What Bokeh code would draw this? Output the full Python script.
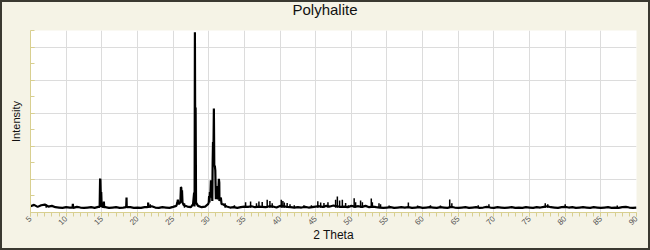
import numpy as np
from bokeh.plotting import figure
from bokeh.layouts import column
from bokeh.models import Range1d, SingleIntervalTicker, CustomJSTickFormatter, Div
from bokeh.embed import file_html
from bokeh.resources import INLINE

# ---------------- data ----------------
title_text = "Polyhalite"
x_label = "2 Theta"
y_label = "Intensity"

# background trace, sampled every 0.5 degree from 5.0 to 90.0
bg_start, bg_step = 5.0, 0.5
bg_counts = [
    190, 230, 170, 220, 240, 180, 200, 160, 150, 140,   # 5 - 9.5
    160, 150, 140, 170, 150, 140, 150, 160, 140, 170,   # 10 - 14.5
    180, 160, 140, 150, 160, 140, 150, 150, 160, 140,   # 15 - 19.5
    150, 140, 160, 150, 190, 150, 140, 160, 150, 140,   # 20 - 24.5
    170, 230, 300, 220, 180, 160, 180, 200, 160, 180,   # 25 - 29.5
    300, 350, 400, 350, 250, 180, 150, 160, 140, 160,   # 30 - 34.5
    180, 170, 190, 160, 180, 170, 160, 190, 180, 150,   # 35 - 39.5
    200, 190, 170, 160, 150, 160, 150, 170, 150, 160,   # 40 - 44.5
    180, 190, 170, 200, 180, 210, 190, 170, 180, 160,   # 45 - 49.5
    200, 180, 190, 170, 200, 160, 180, 160, 150, 140,   # 50 - 54.5
    150, 160, 140, 150, 160, 150, 160, 140, 150, 160,   # 55 - 59.5
    140, 150, 160, 150, 140, 160, 150, 140, 170, 150,   # 60 - 64.5
    140, 150, 160, 140, 150, 160, 140, 150, 170, 150,   # 65 - 69.5
    140, 160, 150, 140, 150, 160, 140, 150, 140, 160,   # 70 - 74.5
    150, 140, 160, 150, 170, 190, 160, 150, 140, 160,   # 75 - 79.5
    170, 150, 160, 140, 150, 160, 150, 140, 160, 150,   # 80 - 84.5
    140, 150, 160, 140, 150, 140, 160, 170, 150, 140,   # 85 - 89.5
    150,                                                # 90
]
bg_theta = [bg_start + bg_step * i for i in range(len(bg_counts))]

# detailed points of the main reflections
pk_theta = [
    10.90, 10.94, 10.98,
    14.70, 14.76, 14.80, 14.86, 14.92, 14.98,
    15.25, 15.29, 15.34,
    18.42, 18.47, 18.52,
    21.45, 21.50, 21.55,
    25.45, 25.60, 25.67, 25.75,
    26.02, 26.10, 26.15, 26.20, 26.25, 26.32,
    27.80, 27.95, 28.02, 28.06, 28.10, 28.16, 28.22,
    29.90, 30.05, 30.10, 30.16, 30.22, 30.30, 30.36, 30.45, 30.55, 30.60,
    30.66, 30.72, 30.78, 30.85, 30.92, 31.00, 31.10, 31.20, 31.30, 31.42,
    31.48, 31.56, 31.70, 31.80,
]
pk_counts = [
    150, 260, 150,
    170, 1000, 1020, 500, 615, 200,
    160, 330, 160,
    160, 450, 160,
    160, 300, 170,
    200, 300, 385, 250,
    300, 770, 750, 350, 670, 300,
    250, 600, 400, 5450, 2500, 3170, 300,
    250, 500, 300, 615, 450, 970, 500, 700, 1500, 2130,
    1800, 3140, 1400, 1420, 1270, 600, 800, 500, 400, 1020,
    900, 400, 450, 250,
]

# small reflections (drawn as thin sticks above the background)
mn_theta = [7.2, 21.8, 26.6, 32.3, 33.6, 35.17, 35.87, 36.7, 37.04, 37.5,
            38.2, 38.58, 38.9, 40.18, 40.4, 40.6, 41.0, 41.4, 42.0, 43.35,
            44.4, 45.3, 45.7, 46.16, 46.72, 47.8, 48.04, 48.36, 48.74, 49.2,
            49.58, 50.4, 50.6, 51.3, 51.55, 52.8, 52.95, 53.88, 54.1, 55.3,
            58.0, 59.3, 61.1, 62.5, 63.8, 64.1, 67.8, 69.3, 77.2, 77.55,
            80.0, 87.3]
mn_counts = [240, 250, 280, 280, 220, 310, 330, 280, 330, 320,
             385, 350, 280, 385, 350, 300, 290, 250, 220, 220,
             220, 340, 300, 290, 310, 385, 480, 365, 385, 290,
             220, 430, 310, 365, 310, 420, 310, 280, 250, 210,
             300, 210, 220, 210, 390, 280, 220, 250, 280, 250,
             250, 210]

# combined trace
tr = sorted(zip(bg_theta + pk_theta, bg_counts + pk_counts))
tr_theta = [t for t, _ in tr]
tr_counts = [c for _, c in tr]

# ---------------- figure ----------------
BG = "#f5f3e6"
AX = "#d8cf90"
GRID = "#dcdcdc"

head = Div(text=title_text, width=646, height=20,
           styles={"text-align": "center", "font-family": "Liberation Sans",
                   "font-size": "15px", "line-height": "16px",
                   "color": "#111111", "margin": "0", "padding": "0"})

p = figure(width=646, height=226, output_backend="svg", toolbar_location=None,
           x_range=Range1d(5, 90), y_range=Range1d(0, 5500),
           min_border_left=28, min_border_right=12, min_border_top=8,
           min_border_bottom=36)
p.background_fill_color = "white"
p.border_fill_color = BG
p.outline_line_color = None

xt = SingleIntervalTicker(interval=5, num_minor_ticks=5)
yt = SingleIntervalTicker(interval=1000, num_minor_ticks=2)
p.xaxis.ticker = xt
p.yaxis.ticker = yt
p.xgrid.ticker = xt
p.ygrid.ticker = yt
p.xgrid.grid_line_color = GRID
p.ygrid.grid_line_color = GRID

for ax in (p.xaxis[0], p.yaxis[0]):
    ax.axis_line_color = AX
    ax.major_tick_line_color = AX
    ax.minor_tick_line_color = AX
    ax.axis_label_text_font = "Liberation Sans"
    ax.axis_label_text_font_style = "normal"
    ax.axis_label_text_color = "#111111"

p.xaxis.axis_label = x_label
p.xaxis.axis_label_text_font_size = "12px"
p.xaxis.axis_label_standoff = -2
p.xaxis.major_tick_in = 0
p.xaxis.major_tick_out = 4
p.xaxis.minor_tick_in = 0
p.xaxis.minor_tick_out = 4
p.xaxis.major_label_orientation = np.pi / 4
p.xaxis.major_label_text_font = "Liberation Sans"
p.xaxis.major_label_text_font_size = "8px"
p.xaxis.major_label_text_color = "#555555"
p.xaxis.major_label_standoff = 1

p.yaxis.axis_label = y_label
p.yaxis.axis_label_text_font_size = "11px"
p.yaxis.axis_label_standoff = 9
p.yaxis.major_tick_in = 4
p.yaxis.major_tick_out = 0
p.yaxis.minor_tick_in = 4
p.yaxis.minor_tick_out = 0
p.yaxis.formatter = CustomJSTickFormatter(code="return ''")
p.yaxis.major_label_standoff = 0

p.line(tr_theta, tr_counts, line_color="black", line_width=2.2)
p.segment(x0=mn_theta, y0=[140] * len(mn_theta), x1=mn_theta, y1=mn_counts,
          line_color="black", line_width=1.5)

page = column(head, p, spacing=0,
              styles={"border": "2px solid #3a3931", "background-color": BG})

open("out.html", "w").write(file_html(page, INLINE))
